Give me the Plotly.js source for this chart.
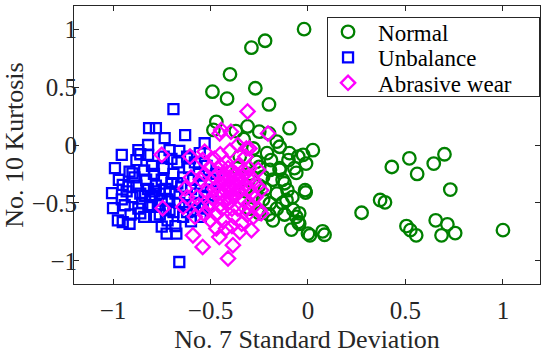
<!DOCTYPE html>
<html>
<head>
<meta charset="utf-8">
<script src="https://cdn.plot.ly/plotly-3.0.1.min.js"></script>
<style>html,body{margin:0;padding:0;background:#fff;}#chart{width:550px;height:354px;}</style>
</head>
<body>
<div id="chart"></div>
<script>
// Series names
const seriesNames = ["Normal", "Unbalance", "Abrasive wear"];

// Normal (green circles)
const normalX = [-0.02,-0.22,-0.29,-0.40,-0.49,-0.415,-0.27,-0.20,-0.095,-0.47,-0.485,-0.31,-0.25,-0.16,-0.095,-0.025,0.025,-0.01,-0.07,-0.145,-0.19,-0.195,-0.25,-0.28,0.43,0.52,0.56,0.645,0.70,0.73,0.37,0.395,0.275,0.505,0.525,0.555,0.655,0.715,0.685,0.755,1.0,0.01,0.075,0.085,-0.085,-0.012,-0.05,-0.045,-0.075,-0.105,-0.12,-0.13,-0.015,-0.06,-0.145,-0.21,-0.13,-0.16,-0.195,-0.25,-0.11,-0.06,-0.045,0.0,-0.18,-0.23,-0.265,-0.145,-0.30,-0.32,-0.28,-0.22,-0.18,-0.25,-0.30,-0.35,-0.33,-0.36,-0.20,-0.10,-0.12,-0.23,-0.05,-0.16,-0.20,-0.37,-0.08];
const normalY = [1.0,0.90,0.84,0.61,0.46,0.40,0.49,0.35,0.145,0.20,0.13,0.16,0.115,0.03,-0.07,-0.085,-0.045,-0.16,-0.20,-0.015,-0.13,-0.215,-0.19,-0.03,-0.19,-0.115,-0.25,-0.16,-0.08,-0.385,-0.475,-0.495,-0.585,-0.70,-0.735,-0.78,-0.65,-0.685,-0.78,-0.76,-0.735,-0.78,-0.745,-0.775,-0.73,-0.41,-0.665,-0.59,-0.56,-0.39,-0.33,-0.50,-0.39,-0.24,-0.20,-0.07,-0.30,-0.42,-0.505,-0.59,-0.475,-0.62,-0.68,-0.765,-0.65,-0.275,-0.145,-0.215,-0.25,-0.40,-0.45,-0.38,-0.30,-0.35,-0.55,-0.10,0.05,-0.20,-0.60,-0.13,-0.60,-0.47,-0.10,-0.55,0.10,0.12,-0.45];

// Unbalance (blue squares)
const unbalanceX = [-0.69,-0.815,-0.78,-0.735,-0.63,-0.53,-0.955,-0.87,-0.99,-0.915,-0.88,-0.82,-0.71,-1.005,-1.0,-0.975,-0.95,-0.915,-0.86,-0.75,-0.725,-0.675,-0.66,-0.95,-0.90,-0.605,-0.555,-0.93,-0.90,-0.88,-0.86,-0.85,-0.83,-0.82,-0.80,-0.79,-0.78,-0.77,-0.76,-0.75,-0.74,-0.73,-0.72,-0.71,-0.70,-0.69,-0.68,-0.67,-0.66,-0.65,-0.64,-0.63,-0.62,-0.61,-0.60,-0.59,-0.58,-0.57,-0.56,-0.55,-0.54,-0.53,-0.52,-0.50,-0.49,-0.87,-0.84,-0.80,-0.76,-0.72,-0.68,-0.64,-0.60,-0.97,-0.94,-0.91,-0.89,-0.84,-0.81,-0.78,-0.74,-0.70,-0.66,-0.62,-0.58,-0.955,-0.92,-0.835,-0.79,-0.75,-0.71,-0.67,-0.63,-0.59,-0.55,-0.51,-0.47,-0.82,-0.86,-0.69,-0.73];
const unbalanceY = [0.31,0.145,0.145,0.06,0.085,0.015,-0.085,-0.045,-0.20,-0.23,-0.13,-0.085,-0.045,-0.415,-0.545,-0.65,-0.665,-0.68,-0.59,-0.705,-0.765,-0.765,-1.01,-0.345,-0.245,-0.115,-0.07,-0.40,-0.45,-0.35,-0.42,-0.50,-0.30,-0.38,-0.45,-0.25,-0.35,-0.52,-0.42,-0.30,-0.20,-0.38,-0.47,-0.56,-0.33,-0.25,-0.42,-0.15,-0.50,-0.36,-0.28,-0.45,-0.58,-0.20,-0.38,-0.30,-0.50,-0.42,-0.25,-0.35,-0.55,-0.45,-0.18,-0.30,-0.40,-0.55,-0.62,-0.18,-0.60,-0.65,-0.70,-0.62,-0.66,-0.30,-0.52,-0.60,-0.28,-0.22,-0.52,-0.62,-0.10,-0.12,-0.05,-0.10,-0.15,-0.47,-0.36,-0.44,-0.40,-0.48,-0.40,-0.33,-0.52,-0.56,-0.62,-0.52,-0.25,0.0,-0.08,-0.58,-0.55];

// Abrasive wear (magenta diamonds)
const wearX = [-0.31,-0.205,-0.445,-0.395,-0.30,-0.605,-0.54,-0.255,-0.24,-0.24,-0.29,-0.63,-0.64,-0.59,-0.54,-0.41,-0.385,-0.455,-0.75,-0.745,-0.25,-0.453,-0.316,-0.53,-0.50,-0.48,-0.46,-0.45,-0.44,-0.43,-0.42,-0.41,-0.40,-0.39,-0.38,-0.37,-0.36,-0.35,-0.34,-0.33,-0.32,-0.31,-0.30,-0.29,-0.28,-0.52,-0.51,-0.49,-0.47,-0.45,-0.43,-0.42,-0.40,-0.38,-0.36,-0.34,-0.32,-0.30,-0.27,-0.55,-0.53,-0.50,-0.48,-0.46,-0.44,-0.42,-0.41,-0.40,-0.39,-0.38,-0.37,-0.36,-0.35,-0.34,-0.33,-0.31,-0.44,-0.42,-0.39,-0.47,-0.35,-0.57,-0.58,-0.56,-0.60,-0.62,-0.26,-0.28,-0.45,-0.40,-0.36,-0.48,-0.32,-0.39,-0.43,-0.46,-0.37,-0.41,-0.50,-0.53,-0.30];
const wearY = [0.29,0.10,0.13,0.115,-0.03,-0.10,-0.13,-0.215,-0.39,-0.59,-0.735,-0.375,-0.535,-0.78,-0.88,-0.98,-0.865,-0.795,-0.085,-0.545,-0.56,0.10,-0.03,-0.058,-0.20,-0.28,-0.35,-0.18,-0.42,-0.25,-0.32,-0.50,-0.38,-0.22,-0.45,-0.30,-0.55,-0.40,-0.27,-0.48,-0.35,-0.60,-0.20,-0.42,-0.30,-0.40,-0.55,-0.45,-0.60,-0.52,-0.65,-0.15,-0.28,-0.62,-0.18,-0.68,-0.10,-0.50,-0.45,-0.30,-0.25,-0.65,-0.38,-0.25,-0.30,-0.40,-0.35,-0.45,-0.33,-0.38,-0.42,-0.35,-0.30,-0.38,-0.22,-0.28,-0.55,-0.72,-0.70,-0.72,-0.75,-0.45,-0.62,-0.52,-0.28,-0.45,-0.35,-0.62,-0.08,-0.05,0.0,-0.12,-0.55,-0.55,-0.48,-0.42,-0.25,-0.20,-0.50,-0.60,-0.38];

// Axis ticks
const tickVals = [-1, -0.5, 0, 0.5, 1];
const tickText = ["\u22121", "\u22120.5", "0", "0.5", "1"];

const colors = ["#008000", "#0000ff", "#ff00ff"];
const serif = "Liberation Serif, Times New Roman, serif";

const traces = [
  {x: normalX, y: normalY, name: seriesNames[0], type: "scatter", mode: "markers",
   marker: {symbol: "circle-open", size: 12.5, color: colors[0], line: {width: 2.3, color: colors[0]}}},
  {x: unbalanceX, y: unbalanceY, name: seriesNames[1], type: "scatter", mode: "markers",
   marker: {symbol: "square-open", size: 10, color: colors[1], line: {width: 2.3, color: colors[1]}}},
  {x: wearX, y: wearY, name: seriesNames[2], type: "scatter", mode: "markers",
   marker: {symbol: "diamond-open", size: 11, color: colors[2], line: {width: 2.3, color: colors[2]}}}
];

const axisCommon = {
  showgrid: false, zeroline: false, showline: true, linecolor: "#262626", linewidth: 1,
  mirror: "ticks", ticks: "inside", ticklen: 5, tickwidth: 1, tickcolor: "#262626",
  tickvals: tickVals, ticktext: tickText,
  tickfont: {family: serif, size: 25, color: "#262626"}
};

const layout = {
  width: 550, height: 354,
  margin: {l: 74, r: 10, t: 6, b: 70},
  paper_bgcolor: "#ffffff", plot_bgcolor: "#ffffff",
  font: {family: serif, color: "#262626"},
  xaxis: Object.assign({}, axisCommon, {range: [-1.2, 1.19], ticklabelstandoff: 4,
    title: {text: "No. 7 Standard Deviation", font: {family: serif, size: 26, color: "#262626"}, standoff: 14}}),
  yaxis: Object.assign({}, axisCommon, {range: [-1.2, 1.2], ticklabelstandoff: -9,
    title: {text: "No. 10 Kurtosis", font: {family: serif, size: 26, color: "#262626"}, standoff: 4}}),
  showlegend: true,
  legend: {x: 0.543, y: 0.961, xanchor: "left", yanchor: "top",
    bgcolor: "#ffffff", bordercolor: "#262626", borderwidth: 1,
    font: {family: serif, size: 23, color: "#000000"}}
};

Plotly.newPlot("chart", traces, layout, {staticPlot: true, displayModeBar: false}).then(function (gd) {
  // Compact the legend rows to match the reference spacing
  const leg = gd.querySelector("g.legend");
  if (!leg) return;
  const rowGap = 25.5, firstRow = 15;
  leg.querySelectorAll("g.traces").forEach(function (t, i) {
    const m = /translate\(\s*([-\d.]+)[ ,]+([-\d.]+)\s*\)/.exec(t.getAttribute("transform") || "");
    const tx = m ? parseFloat(m[1]) : 1;
    t.setAttribute("transform", "translate(" + tx + "," + (firstRow + i * rowGap) + ")");
    const txt = t.querySelector("text.legendtext");
    if (txt) txt.setAttribute("x", 50);
  });
  const sb = leg.querySelector("g.scrollbox");
  if (sb) sb.removeAttribute("clip-path");
  leg.removeAttribute("clip-path");
  const bg = leg.querySelector("rect.bg");
  if (bg) { bg.setAttribute("height", 79); bg.setAttribute("width", 212); }
});
</script>
</body>
</html>
